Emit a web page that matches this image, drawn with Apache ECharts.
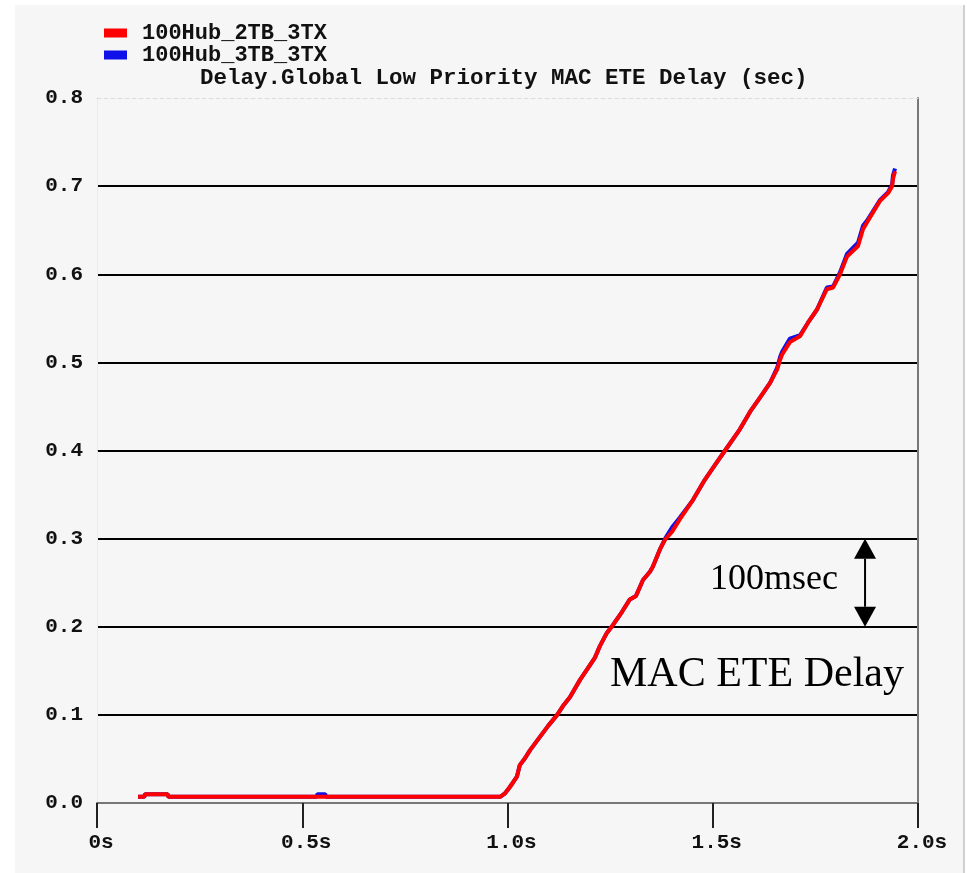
<!DOCTYPE html>
<html><head><meta charset="utf-8">
<script src="https://cdn.jsdelivr.net/npm/echarts@6/dist/echarts.min.js"></script>
<style>html,body{margin:0;padding:0;background:#fff}#c{width:967px;height:873px}</style>
</head><body><div id="c"></div>
<script>
const seriesNames = ['100Hub_2TB_3TX', '100Hub_3TB_3TX'];
const seriesColors = ['#ff0000', '#1010e8'];
const chartTitle = 'Delay.Global Low Priority MAC ETE Delay (sec)';
const xTickLabels = ['0s', '0.5s', '1.0s', '1.5s', '2.0s'];
const yTickLabels = ['0.0', '0.1', '0.2', '0.3', '0.4', '0.5', '0.6', '0.7', '0.8'];
const annotationSpan = ['100msec'];
const annotationTitle = ['MAC ETE Delay'];
const spanFrom = [1.871, 0.3];
const spanTo = [1.871, 0.2];

// [time (s), delay (s)]
const delay2TB = [
  [0.100,0.007],[0.115,0.007],[0.117,0.010],[0.172,0.010],[0.174,0.007],[0.500,0.007],[0.982,0.007],
  [0.994,0.011],[1.004,0.017],[1.013,0.023],[1.023,0.030],[1.030,0.043],[1.043,0.051],[1.055,0.060],
  [1.079,0.075],[1.099,0.0875],[1.121,0.100],[1.135,0.110],[1.152,0.120],[1.177,0.140],[1.196,0.153],
  [1.213,0.165],[1.225,0.178],[1.242,0.193],[1.257,0.202],[1.279,0.217],[1.298,0.231],[1.313,0.235],
  [1.330,0.253],[1.347,0.2625],[1.354,0.268],[1.371,0.2875],[1.384,0.299],[1.401,0.308],[1.420,0.322],
  [1.452,0.344],[1.481,0.367],[1.506,0.384],[1.530,0.400],[1.566,0.424],[1.591,0.444],[1.615,0.460],
  [1.640,0.477],[1.657,0.492],[1.664,0.503],[1.669,0.509],[1.688,0.523],[1.713,0.530],[1.732,0.545],
  [1.754,0.560],[1.778,0.583],[1.793,0.585],[1.810,0.600],[1.827,0.620],[1.854,0.632],[1.866,0.651],
  [1.876,0.659],[1.907,0.683],[1.927,0.692],[1.937,0.700],[1.939,0.708],[1.944,0.717]
];
const delay3TB = [
  [0.100,0.007],[0.115,0.007],[0.117,0.010],[0.172,0.010],[0.174,0.007],[0.535,0.007],[0.537,0.010],
  [0.556,0.010],[0.558,0.007],[0.982,0.007],
  [0.994,0.011],[1.004,0.017],[1.013,0.023],[1.023,0.030],[1.030,0.043],[1.043,0.051],[1.055,0.060],
  [1.079,0.075],[1.099,0.0875],[1.121,0.100],[1.135,0.110],[1.152,0.120],[1.177,0.140],[1.196,0.153],
  [1.213,0.165],[1.225,0.178],[1.242,0.193],[1.257,0.202],[1.279,0.217],[1.298,0.231],[1.313,0.235],
  [1.330,0.253],[1.347,0.2625],[1.354,0.268],[1.371,0.2875],[1.384,0.300],[1.401,0.313],[1.420,0.324],
  [1.452,0.344],[1.481,0.367],[1.506,0.384],[1.530,0.400],[1.566,0.424],[1.591,0.444],[1.615,0.460],
  [1.640,0.477],[1.657,0.494],[1.664,0.506],[1.669,0.512],[1.688,0.527],[1.713,0.531],[1.732,0.545],
  [1.754,0.560],[1.778,0.585],[1.793,0.586],[1.810,0.602],[1.827,0.623],[1.854,0.636],[1.866,0.655],
  [1.876,0.661],[1.907,0.684],[1.927,0.693],[1.937,0.702],[1.939,0.712],[1.944,0.720]
];

const MONO = '"Liberation Mono", "DejaVu Sans Mono", monospace';
const SERIF = '"Liberation Serif", "DejaVu Serif", serif';
const chart = echarts.init(document.getElementById('c'), null, {renderer: 'canvas'});

chart.setOption({
  backgroundColor: '#ffffff',
  animation: false,
  title: {
    text: chartTitle, left: 200, top: 69, padding: 0,
    textStyle: {fontFamily: MONO, fontSize: 22.5, fontWeight: 'bold', color: '#111', lineHeight: 18}
  },
  legend: {
    orient: 'vertical', left: 104, top: 22, padding: 0, itemGap: 0,
    itemWidth: 23, itemHeight: 9, icon: 'rect',
    data: seriesNames,
    textStyle: {fontFamily: MONO, fontSize: 22, fontWeight: 'bold', color: '#111', lineHeight: 18, padding: [0, 0, 0, 10]}
  },
  grid: {left: 97, right: 49, top: 98, bottom: 70},
  xAxis: [{
    type: 'value', min: 0, max: 2, interval: 0.5,
    axisLine: {show: true, onZero: false, lineStyle: {color: '#777', width: 2}},
    axisTick: {show: true, length: 25, lineStyle: {color: '#222', width: 2}},
    axisLabel: {
      fontFamily: MONO, fontSize: 21, fontWeight: 'bold', color: '#111', margin: 29, padding: [0, 0, 0, 8],
      formatter: v => xTickLabels[Math.round(v / 0.5)]
    },
    splitLine: {show: false}
  }, {
    type: 'value', position: 'top', min: 0, max: 2,
    axisLine: {show: true, onZero: false, lineStyle: {color: '#dcdcdc', width: 1, type: [4, 3]}},
    axisTick: {show: false}, axisLabel: {show: false}, splitLine: {show: false}
  }],
  yAxis: [{
    type: 'value', min: 0, max: 0.8, interval: 0.1,
    axisLine: {show: true, onZero: false, lineStyle: {color: '#ebebeb', width: 1}},
    axisTick: {show: false},
    axisLabel: {
      fontFamily: MONO, fontSize: 21, fontWeight: 'bold', color: '#111', margin: 14,
      formatter: v => yTickLabels[Math.round(v / 0.1)]
    },
    splitLine: {show: true, showMinLine: false, showMaxLine: false, lineStyle: {color: '#000', width: 2}}
  }, {
    type: 'value', position: 'right', min: 0, max: 0.8,
    axisLine: {show: true, onZero: false, lineStyle: {color: '#777', width: 2}},
    axisTick: {show: false}, axisLabel: {show: false}, splitLine: {show: false}
  }],
  series: [{
    name: seriesNames[0], type: 'line', data: delay2TB, z: 4,
    showSymbol: false, symbol: 'none',
    itemStyle: {color: seriesColors[0]},
    lineStyle: {color: seriesColors[0], width: 4}
  }, {
    name: seriesNames[1], type: 'line', data: delay3TB, z: 3,
    showSymbol: false, symbol: 'none',
    itemStyle: {color: seriesColors[1]},
    lineStyle: {color: seriesColors[1], width: 4}
  }],
  graphic: [
    {id: 'bg', type: 'rect', z: -10, silent: true, shape: {x: 15, y: 5, width: 948, height: 868}, style: {fill: '#f6f6f6'}},
    {id: 'bgEdge', type: 'rect', z: -10, silent: true, shape: {x: 963, y: 5, width: 2, height: 868}, style: {fill: '#d0d0d0'}}
  ]
});

const pTop = chart.convertToPixel({gridIndex: 0}, spanFrom);
const pBot = chart.convertToPixel({gridIndex: 0}, spanTo);
const ax = pTop[0], head = 20, hw = 11;
chart.setOption({
  graphic: [
    {id: 'arrowLine', type: 'line', z: 10, silent: true,
      shape: {x1: ax, y1: pTop[1] + head, x2: ax, y2: pBot[1] - head}, style: {stroke: '#000', lineWidth: 2}},
    {id: 'arrowTop', type: 'polygon', z: 10, silent: true,
      shape: {points: [[ax, pTop[1]], [ax - hw, pTop[1] + head], [ax + hw, pTop[1] + head]]}, style: {fill: '#000'}},
    {id: 'arrowBot', type: 'polygon', z: 10, silent: true,
      shape: {points: [[ax, pBot[1]], [ax - hw, pBot[1] - head], [ax + hw, pBot[1] - head]]}, style: {fill: '#000'}},
    {id: 'txtSpan', type: 'text', z: 10, silent: true, x: 710, y: 580,
      style: {text: annotationSpan[0], font: '36px ' + SERIF, fill: '#000', verticalAlign: 'middle', align: 'left'}},
    {id: 'txtTitle', type: 'text', z: 10, silent: true, x: 610, y: 675,
      style: {text: annotationTitle[0], font: '42px ' + SERIF, fill: '#000', verticalAlign: 'middle', align: 'left'}}
  ]
});
</script></body></html>
